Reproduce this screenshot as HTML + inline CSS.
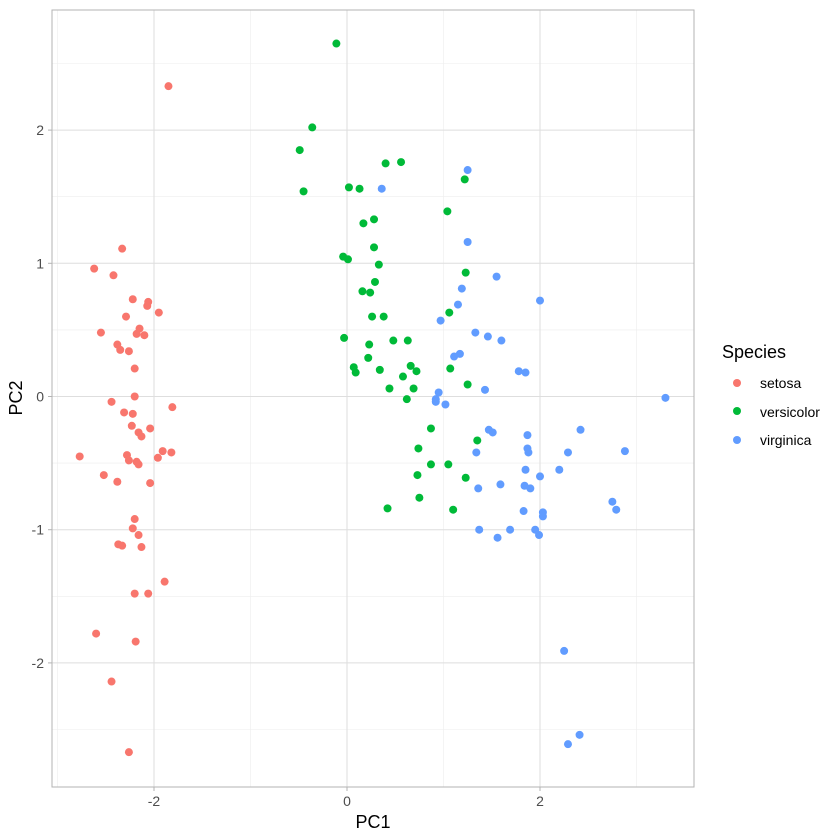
<!DOCTYPE html>
<html><head><meta charset="utf-8"><style>
body{margin:0;background:#fff}
svg{display:block;font-family:"Liberation Sans",sans-serif}
</style></head><body>
<svg id="chart" width="840" height="840" viewBox="0 0 840 840">
<rect x="0" y="0" width="840" height="840" fill="#fff"/>
<g id="grid"></g>
<g id="points"></g>
<rect x="52" y="10" width="642" height="777" fill="none" stroke="#b3b3b3" stroke-width="1"/>
<g id="axes"></g>
<text x="373" y="828" text-anchor="middle" font-size="18" fill="#000">PC1</text>
<text x="22" y="398" text-anchor="middle" font-size="18" fill="#000" transform="rotate(-90 22 398)">PC2</text>
<g>
<text x="722" y="358" font-size="18" fill="#000">Species</text>
<circle cx="737" cy="383" r="4" fill="#F8766D"/>
<text x="760" y="388" font-size="14" fill="#000">setosa</text>
<circle cx="737" cy="411" r="4" fill="#00BA38"/>
<text x="760" y="417" font-size="14" fill="#000">versicolor</text>
<circle cx="737" cy="440" r="4" fill="#619CFF"/>
<text x="760" y="445" font-size="14" fill="#000">virginica</text>
</g>
</svg>
<script>
const species = ["setosa","versicolor","virginica"];
const colors = ["#F8766D","#00BA38","#619CFF"];
const xTicks = [-2,0,2];
const yTicks = [-2,-1,0,1,2];
const xMinor = [-3,-1,1,3];
const yMinor = [-2.5,-1.5,-0.5,0.5,1.5,2.5];
const setosaPC1 = [-1.85,-2.33,-2.62,-2.42,-2.22,-2.06,-2.07,-1.95,-2.29,-2.55,-2.15,-2.18,-2.10,-2.38,-2.35,-2.26,-2.20,-2.20,-2.44,-2.31,-2.22,-1.81,-2.23,-2.04,-2.16,-2.13,-2.77,-1.91,-1.82,-2.28,-2.26,-2.18,-2.16,-1.96,-2.52,-2.38,-2.04,-2.20,-2.22,-2.16,-2.37,-2.33,-2.13,-1.89,-2.20,-2.06,-2.60,-2.19,-2.44,-2.26];
const setosaPC2 = [2.33,1.11,0.96,0.91,0.73,0.71,0.68,0.63,0.60,0.48,0.51,0.47,0.46,0.39,0.35,0.34,0.21,0.00,-0.04,-0.12,-0.13,-0.08,-0.22,-0.24,-0.27,-0.30,-0.45,-0.41,-0.42,-0.44,-0.48,-0.49,-0.51,-0.46,-0.59,-0.64,-0.65,-0.92,-0.99,-1.04,-1.11,-1.12,-1.13,-1.39,-1.48,-1.48,-1.78,-1.84,-2.14,-2.67];
const versicolorPC1 = [-0.11,-0.36,-0.49,-0.45,0.02,0.13,0.40,0.56,1.22,1.04,0.28,0.17,0.28,-0.04,0.01,0.33,1.23,0.29,0.16,0.24,1.06,0.26,0.38,-0.03,0.23,0.48,0.63,0.22,0.07,0.09,0.34,0.66,0.72,1.07,0.58,0.44,0.69,1.25,0.62,0.87,1.35,0.74,0.87,1.05,0.73,1.23,0.75,0.42,1.10];
const versicolorPC2 = [2.65,2.02,1.85,1.54,1.57,1.56,1.75,1.76,1.63,1.39,1.33,1.30,1.12,1.05,1.03,0.99,0.93,0.86,0.79,0.78,0.63,0.60,0.60,0.44,0.39,0.42,0.42,0.29,0.22,0.18,0.20,0.23,0.19,0.21,0.15,0.06,0.06,0.09,-0.02,-0.24,-0.33,-0.39,-0.51,-0.51,-0.59,-0.61,-0.76,-0.84,-0.85];
const virginicaPC1 = [1.25,0.36,1.25,1.55,1.19,2.00,1.15,0.97,1.33,1.46,1.60,1.17,1.11,1.78,1.85,1.43,0.95,0.92,0.92,1.02,3.30,1.47,1.51,2.42,1.87,1.87,1.88,1.34,2.29,2.88,2.20,1.85,2.00,1.59,1.36,1.84,1.90,2.75,2.79,1.83,2.03,2.03,1.37,1.69,1.95,1.99,1.56,2.25,2.41,2.29];
const virginicaPC2 = [1.70,1.56,1.16,0.90,0.81,0.72,0.69,0.57,0.48,0.45,0.42,0.32,0.30,0.19,0.18,0.05,0.03,-0.02,-0.04,-0.06,-0.01,-0.25,-0.27,-0.25,-0.29,-0.39,-0.42,-0.42,-0.42,-0.41,-0.55,-0.55,-0.60,-0.66,-0.69,-0.67,-0.69,-0.79,-0.85,-0.86,-0.87,-0.90,-1.00,-1.00,-1.00,-1.04,-1.06,-1.91,-2.54,-2.61];

const NS="http://www.w3.org/2000/svg";
const xScale = v => 347 + v*96.5;
const yScale = v => 396.5 - v*133.2;
const X0=52,X1=694,Y0=10,Y1=787;
const grid=document.getElementById('grid'), axes=document.getElementById('axes'), pts=document.getElementById('points');
function line(g,x1,y1,x2,y2,c,w){const l=document.createElementNS(NS,'line');l.setAttribute('x1',x1);l.setAttribute('y1',y1);l.setAttribute('x2',x2);l.setAttribute('y2',y2);l.setAttribute('stroke',c);l.setAttribute('stroke-width',w);g.appendChild(l);return l;}
xMinor.forEach(v=>{const l=line(grid,xScale(v),Y0,xScale(v),Y1,'#ededed',0.6);

});
yMinor.forEach(v=>{const l=line(grid,X0,yScale(v),X1,yScale(v),'#ededed',0.6);

});
xTicks.forEach(v=>{const l=line(grid,xScale(v),Y0,xScale(v),Y1,'#dedede',1);


const t=line(axes,xScale(v),Y1,xScale(v),Y1+4,'#b3b3b3',1);


const tx=document.createElementNS(NS,'text');tx.setAttribute('x',xScale(v));tx.setAttribute('y',806);tx.setAttribute('text-anchor','middle');tx.setAttribute('font-size','14');tx.setAttribute('fill','#4d4d4d');tx.textContent=v<0?'-'+Math.abs(v):String(v);


axes.appendChild(tx);});
yTicks.forEach(v=>{const l=line(grid,X0,yScale(v),X1,yScale(v),'#dedede',1);


const t=line(axes,X0-4,yScale(v),X0,yScale(v),'#b3b3b3',1);


const tx=document.createElementNS(NS,'text');tx.setAttribute('x',44);tx.setAttribute('y',yScale(v)+5);tx.setAttribute('text-anchor','end');tx.setAttribute('font-size','14');tx.setAttribute('fill','#4d4d4d');tx.textContent=v<0?'-'+Math.abs(v):String(v);


axes.appendChild(tx);});
const series=[[setosaPC1,setosaPC2],[versicolorPC1,versicolorPC2],[virginicaPC1,virginicaPC2]];
series.forEach((s,i)=>{s[0].forEach((x,j)=>{const c=document.createElementNS(NS,'circle');c.setAttribute('cx',xScale(x));c.setAttribute('cy',yScale(s[1][j]));c.setAttribute('r',4);c.setAttribute('fill',colors[i]);


pts.appendChild(c);});});
</script>
</body></html>
